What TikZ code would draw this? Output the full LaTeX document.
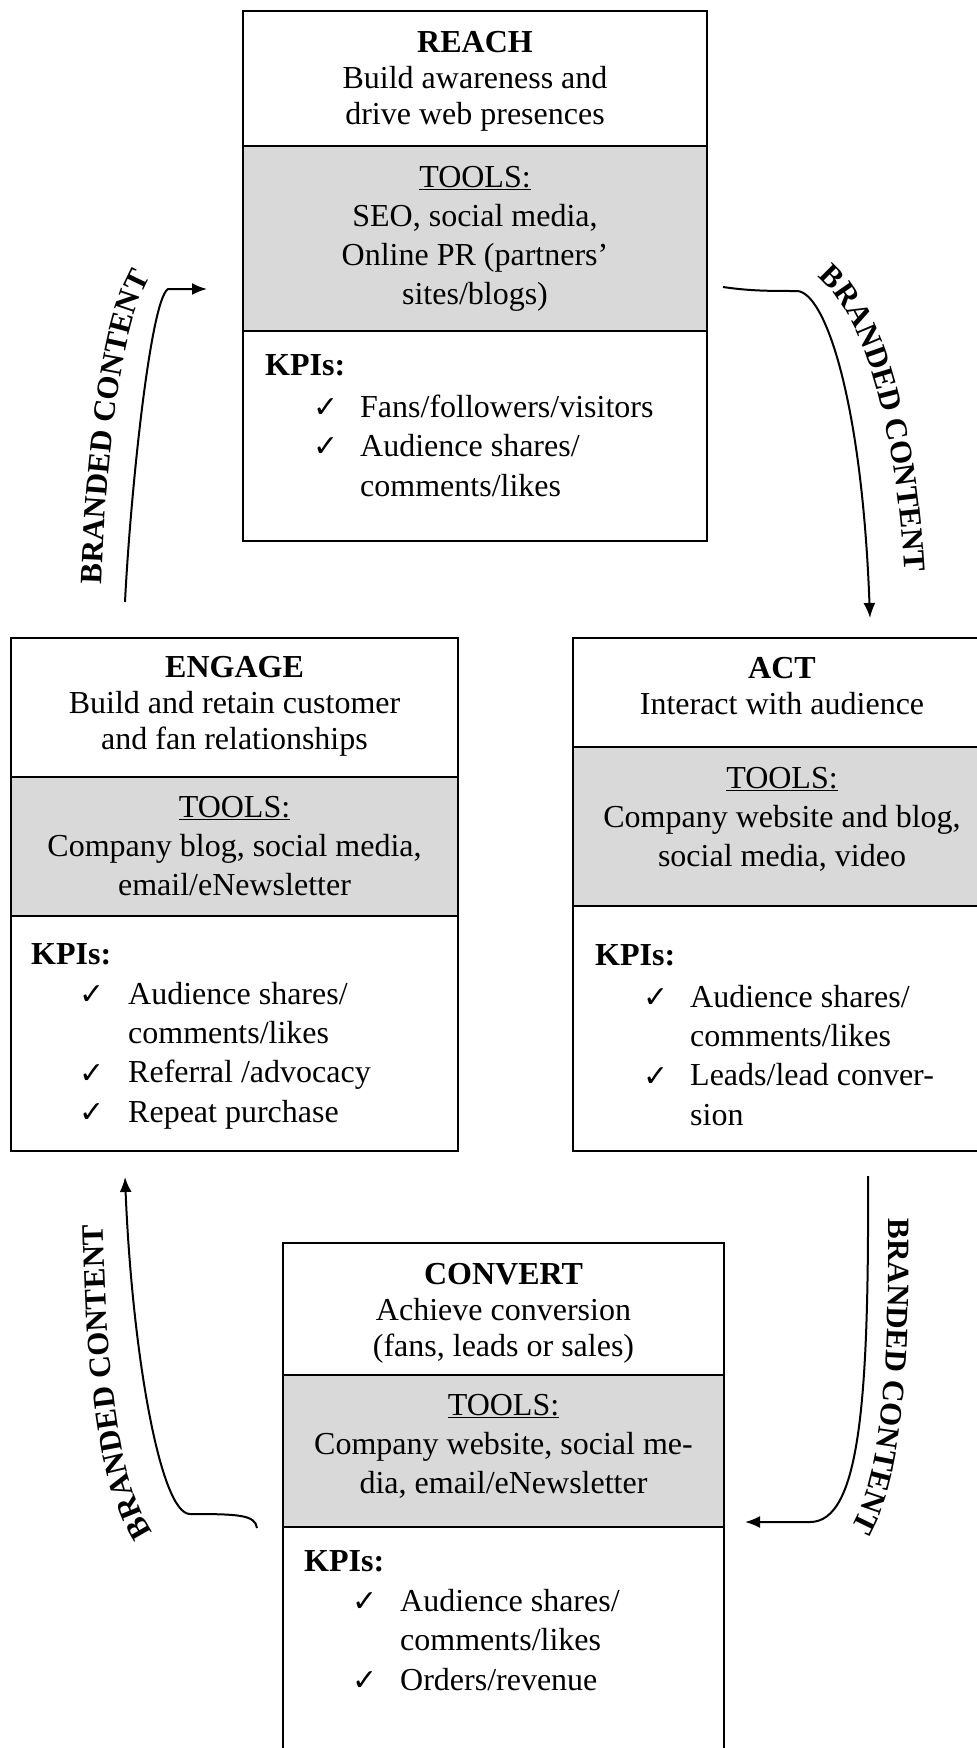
\documentclass[tikz,border=0pt]{standalone}
\usepackage{fontspec}
\setmainfont{Liberation Serif}
\newfontfamily\symf{DejaVu Sans}
\usetikzlibrary{arrows.meta,decorations.text}
\definecolor{toolgray}{HTML}{D9D9D9}
\begin{document}
\begin{tikzpicture}[x=1pt,y=-1pt,
  sec/.style={draw, line width=2pt, anchor=north west, inner sep=0pt, outer sep=0pt},
  toolsec/.style={sec, fill=toolgray},
  ttl/.style={anchor=base, align=center, inner sep=0pt, font=\fontsize{32}{36}\selectfont},
  tl/.style={anchor=base, align=center, inner sep=0pt, font=\fontsize{32}{39}\selectfont},
  kpi/.style={anchor=base west, inner sep=0pt, font=\fontsize{32}{39}\selectfont\bfseries},
  items/.style={anchor=base west, align=left, inner sep=0pt, font=\fontsize{32}{39.3}\selectfont},
  chk/.style={anchor=base west, inner sep=0pt, font=\symf\fontsize{30}{30}\selectfont},
  flow/.style={line width=2pt, -{Latex[length=15pt,width=12pt]}},
  brand/.style={decorate, decoration={text along path, text align=center,
      text={|\fontsize{31}{31}\selectfont\bfseries|BRANDED CONTENT}}}
]
\useasboundingbox (0,0) rectangle (977,1748);
\clip (0,0) rectangle (977,1748);

% ---------- REACH ----------
\node[sec, minimum width=464pt, minimum height=135pt] (reachA) at (243,11) {};
\node[toolsec, minimum width=464pt, minimum height=185pt] (reachB) at (243,146) {};
\node[sec, minimum width=464pt, minimum height=210pt] (reachC) at (243,331) {};
\node[ttl] (reachT) at (475,124) {\textbf{REACH}\\Build awareness and\\drive web presences};
\node[tl] (reachTools) at (475,304) {\underline{TOOLS:}\\SEO, social media,\\Online PR (partners’\\sites/blogs)};
\node[kpi] (reachK) at (265,375) {KPIs:};
\node[chk] (reachC1) at (313,417) {✓};
\node[chk] (reachC2) at (313,456.5) {✓};
\node[items] (reachI) at (360,496) {Fans/followers/visitors\\Audience shares/\\comments/likes};

% ---------- ENGAGE ----------
\node[sec, minimum width=447pt, minimum height=139pt] (engA) at (11,638) {};
\node[toolsec, minimum width=447pt, minimum height=139pt] (engB) at (11,777) {};
\node[sec, minimum width=447pt, minimum height=235pt] (engC) at (11,916) {};
\node[ttl] (engT) at (234.5,749) {\textbf{ENGAGE}\\Build and retain customer\\and fan relationships};
\node[tl] (engTools) at (234.5,895) {\underline{TOOLS:}\\Company blog, social media,\\email/eNewsletter};
\node[kpi] (engK) at (31,964) {KPIs:};
\node[chk] (engC1) at (79,1004) {✓};
\node[chk] (engC2) at (79,1083) {✓};
\node[chk] (engC3) at (79,1122) {✓};
\node[items] (engI) at (128,1122) {Audience shares/\\comments/likes\\Referral /advocacy\\Repeat purchase};

% ---------- ACT ----------
\node[sec, minimum width=418pt, minimum height=109pt] (actA) at (573,638) {};
\node[toolsec, minimum width=418pt, minimum height=159pt] (actB) at (573,747) {};
\node[sec, minimum width=418pt, minimum height=245pt] (actC) at (573,906) {};
\node[ttl] (actT) at (782,714) {\textbf{ACT}\\Interact with audience};
\node[tl] (actTools) at (782,866) {\underline{TOOLS:}\\Company website and blog,\\social media, video};
\node[kpi] (actK) at (595,965) {KPIs:};
\node[chk] (actC1) at (643,1007) {✓};
\node[chk] (actC2) at (643,1086) {✓};
\node[items] (actI) at (690,1125) {Audience shares/\\comments/likes\\Leads/lead conver-\\sion};

% ---------- CONVERT ----------
\node[sec, minimum width=441pt, minimum height=132pt] (convA) at (283,1243) {};
\node[toolsec, minimum width=441pt, minimum height=152pt] (convB) at (283,1375) {};
\node[sec, minimum width=441pt, minimum height=243pt] (convC) at (283,1527) {};
\node[ttl] (convT) at (503.5,1356) {\textbf{CONVERT}\\Achieve conversion\\(fans, leads or sales)};
\node[tl] (convTools) at (503.5,1493) {\underline{TOOLS:}\\Company website, social me-\\dia, email/eNewsletter};
\node[kpi] (convK) at (304,1571) {KPIs:};
\node[chk] (convC1) at (352,1611) {✓};
\node[chk] (convC2) at (352,1690) {✓};
\node[items] (convI) at (400,1690) {Audience shares/\\comments/likes\\Orders/revenue};

% ---------- arrows ----------
\coordinate (ul0) at (125,602);
\coordinate (ul1) at (168,289);
\coordinate (ul2) at (207,289);
\draw[flow] (ul0) .. controls (130,500) and (150,300) .. (ul1) -- (ul2);

\coordinate (ur0) at (723,287);
\coordinate (ur1) at (797,291);
\coordinate (ur2) at (870,618);
\draw[flow] (ur0) .. controls (750,291) and (770,291) .. (ur1) .. controls (825,292) and (862,400) .. (ur2);

\coordinate (br0) at (868,1176);
\coordinate (br1) at (810,1522);
\coordinate (br2) at (745,1522);
\draw[flow] (br0) .. controls (869,1400) and (860,1522) .. (br1) -- (br2);

\coordinate (bl0) at (257,1528);
\coordinate (bl1) at (190,1514);
\coordinate (bl2) at (125,1177);
\draw[flow] (bl0) .. controls (255,1515) and (240,1514) .. (bl1) .. controls (160,1514) and (132,1350) .. (bl2);

% ---------- labels ----------
\path[brand] (101,600) .. controls (104,480) and (120,300) .. (160,264);
\path[brand] (792,266) .. controls (850,272) and (898,400) .. (906,600);
\path[brand] (888,1195) .. controls (890,1380) and (882,1500) .. (837,1547);
\path[brand] (170,1550) .. controls (118,1510) and (106,1380) .. (103,1200);
\end{tikzpicture}
\end{document}
